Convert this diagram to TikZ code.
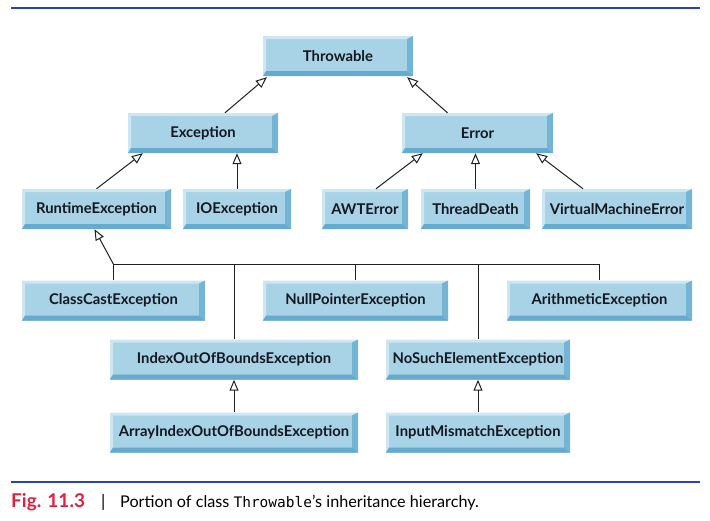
\documentclass[tikz,border=0pt]{standalone}
\usepackage{fontspec}
\setmainfont{Lato}
\setmonofont{DejaVu Sans Mono}
\usetikzlibrary{arrows.meta,calc}
\definecolor{boxfill}{HTML}{A8D2E6}
\definecolor{boxlight}{HTML}{CDE6F2}
\definecolor{boxright}{HTML}{74B5D6}
\definecolor{boxbottom}{HTML}{66ABCF}
\definecolor{rulecol}{HTML}{2A3FC8}
\definecolor{figred}{HTML}{E0203F}
\definecolor{linecol}{HTML}{202020}
\definecolor{txtcol}{HTML}{15181F}
\tikzset{
  cls/.style={rectangle, fill=boxfill, minimum height=40pt, inner sep=0pt,
    font=\fontsize{14.8}{16}\selectfont\bfseries, text=txtcol,
    path picture={
      \fill[boxlight] (path picture bounding box.north west) -- (path picture bounding box.north east)
         -- ([xshift=-6pt,yshift=-3pt]path picture bounding box.north east)
         -- ([xshift=3pt,yshift=-3pt]path picture bounding box.north west) -- cycle;
      \fill[boxlight] (path picture bounding box.north west) -- ([xshift=3pt,yshift=-3pt]path picture bounding box.north west)
         -- ([xshift=3pt,yshift=5pt]path picture bounding box.south west) -- (path picture bounding box.south west) -- cycle;
      \fill[boxright] (path picture bounding box.north east) -- (path picture bounding box.south east)
         -- ([xshift=-6pt,yshift=5pt]path picture bounding box.south east) -- ([xshift=-6pt,yshift=-3pt]path picture bounding box.north east) -- cycle;
      \fill[boxbottom] (path picture bounding box.south west) -- (path picture bounding box.south east)
         -- ([xshift=-6pt,yshift=5pt]path picture bounding box.south east) -- ([xshift=3pt,yshift=5pt]path picture bounding box.south west) -- cycle;
    }},
  inh/.style={draw=linecol, line width=1pt, -{Triangle[open, length=11pt, width=9pt, line width=1pt]}},
  link/.style={draw=linecol, line width=1pt}
}
\begin{document}
\begin{tikzpicture}[x=1pt,y=-1pt]
\useasboundingbox (0,0) rectangle (710,520);
% rules
\coordinate (r1a) at (11,8); \coordinate (r1b) at (700,8);
\draw[rulecol, line width=1.3pt] (r1a) -- (r1b);
\coordinate (r2a) at (11,482); \coordinate (r2b) at (700,482);
\draw[rulecol, line width=1.3pt] (r2a) -- (r2b);

% nodes
\node[cls, minimum width=150pt] (thr) at (338,56) {Throwable};
\node[cls, minimum width=150pt] (exc) at (203,133) {Exception};
\node[cls, minimum width=151pt] (err) at (477.5,133) {Error};
\node[cls, minimum width=149pt] (rte) at (96.5,209) {RuntimeException};
\node[cls, minimum width=108pt] (ioe) at (237,209) {IOException};
\node[cls, minimum width=86pt]  (awt) at (365,209) {AWTError};
\node[cls, minimum width=109pt] (tde) at (475.5,209) {ThreadDeath};
\node[cls, minimum width=150pt] (vme) at (617,209) {VirtualMachineError};
\node[cls, minimum width=183pt] (cce) at (113.5,300.5) {ClassCastException};
\node[cls, minimum width=185pt] (npe) at (355.5,300.5) {NullPointerException};
\node[cls, minimum width=185pt] (ari) at (599.5,300.5) {ArithmeticException};
\node[cls, minimum width=248pt] (iob) at (234,359.5) {IndexOutOfBoundsException};
\node[cls, minimum width=184pt] (nse) at (478,359.5) {NoSuchElementException};
\node[cls, minimum width=248pt] (aio) at (234,432.5) {ArrayIndexOutOfBoundsException};
\node[cls, minimum width=184pt] (ime) at (478,432.5) {InputMismatchException};

% connectors
\draw[inh] ([xshift=22pt]exc.north) -- ([xshift=4pt,yshift=-1pt]thr.south west);
\draw[inh] ([xshift=-30pt]err.north) -- ([xshift=-6pt,yshift=-1pt]thr.south east);
\draw[inh] (rte.north) -- ([xshift=15pt]exc.south west);
\draw[inh] (ioe.north) -- (ioe.north |- exc.south);
\draw[inh] ([xshift=11pt]awt.north) -- ([xshift=21pt]err.south west);
\draw[inh] (tde.north) -- (tde.north |- err.south);
\draw[inh] ([xshift=-34pt]vme.north) -- ([xshift=-17pt]err.south east);

\coordinate (busl) at ([yshift=16pt]cce.north);
\coordinate (busr) at (busl -| ari.north);
\draw[link] (cce.north) -- (busl) -- (busr) -- (ari.north);
\draw[link] (iob.north) -- (iob.north |- busl);
\draw[link] (npe.north) -- (npe.north |- busl);
\draw[link] (nse.north) -- (nse.north |- busl);
\draw[inh] (busl) -- ([xshift=-2pt]rte.south);

\draw[inh] (aio.north) -- (iob.south);
\draw[inh] (ime.north) -- (nse.south);

% caption
\node[anchor=base west, inner sep=0pt, text=figred, font=\fontsize{19}{21}\selectfont\bfseries] (fig) at (11,507) {Fig. 11.3};
\node[anchor=base west, inner sep=0pt, font=\fontsize{17}{21}\selectfont] (bar) at (101,507) {|};
\node[anchor=base west, inner sep=0pt, font=\fontsize{16.2}{19}\selectfont] (cap) at (120,507) {Portion of class {\ttfamily\fontsize{14.5}{19}\selectfont Throwable}’s inheritance hierarchy.};
\end{tikzpicture}
\end{document}
